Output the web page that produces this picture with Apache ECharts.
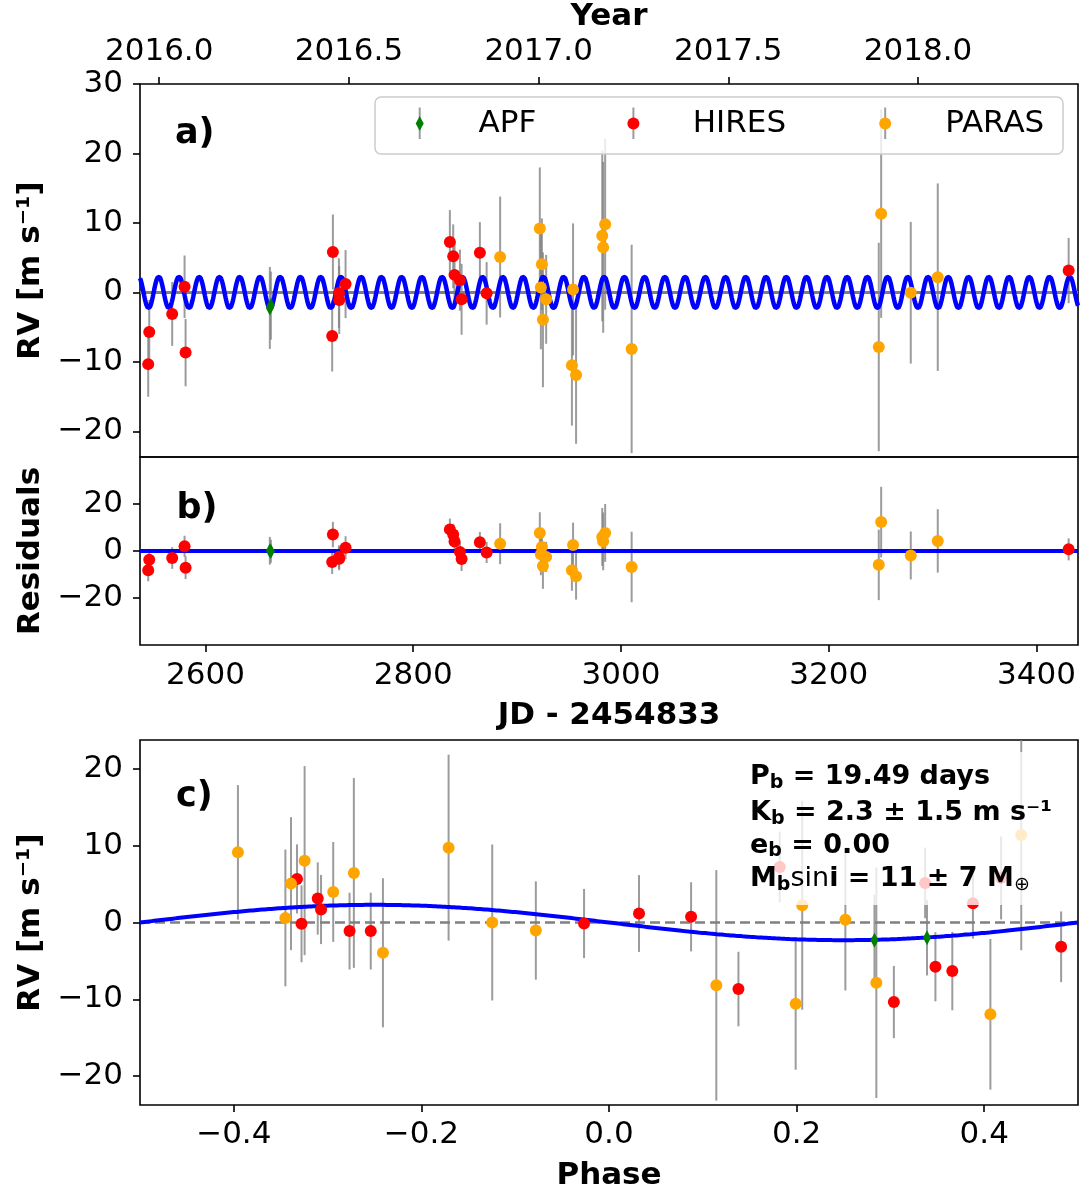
<!DOCTYPE html>
<html><head><meta charset="utf-8">
<script src="https://cdn.jsdelivr.net/npm/echarts@6/dist/echarts.min.js"></script>
<style>html,body{margin:0;padding:0;background:#fff}#c{width:1080px;height:1192px}</style>
</head><body><div id="c"></div>
<script>
// ---------------- data ----------------
// Time series, JD - 2454833
const apfJD   = [2662.0, 2663.0];
const apfRV   = [-2.24, -1.9];
const apfErr  = [5.9, 4.9];
const apfRes  = [0.1, -0.1];

const hiresJD  = [2544.9, 2545.9, 2568.0, 2579.9, 2580.9, 2722.0, 2722.7, 2728.5, 2728.8, 2734.9, 2835.3, 2838.5, 2839.8, 2845.0, 2846.6, 2864.2, 2870.7, 3431.0];
const hiresRV  = [-10.33, -5.71, -3.1, 0.81, -8.67, -6.29, 5.81, -0.1, -1.1, 1.19, 7.24, 5.19, 2.52, 1.76, -1.0, 5.71, -0.14, 3.14];
const hiresErr = [4.7, 4.6, 4.6, 4.5, 4.85, 5.1, 5.4, 5.0, 4.9, 4.9, 4.6, 4.6, 4.7, 4.4, 5.1, 4.4, 4.5, 4.7];
const hiresRes = [-8.2, -3.7, -3.0, 2.0, -7.1, -4.7, 7.0, -2.6, -3.3, 1.4, 9.2, 7.0, 4.0, -0.4, -3.4, 3.7, -0.6, 0.7];

const parasJD  = [2883.7, 2921.9, 2922.9, 2923.9, 2924.9, 2928.0, 2952.8, 2953.9, 2956.8, 2982.0, 2982.9, 2984.8, 3010.3, 3248.2, 3250.5, 3279.0, 3305.0];
const parasRV  = [5.09, 9.19, 0.71, 4.05, -3.95, -1.0, -10.48, 0.43, -11.9, 8.14, 6.48, 9.81, -8.14, -7.86, 11.33, -0.05, 2.19];
const parasErr = [8.7, 8.8, 8.9, 6.6, 9.7, 6.4, 8.7, 9.5, 9.9, 12.3, 12.3, 12.3, 15.0, 15.0, 15.0, 10.2, 13.5];
const parasRes = [3.1, 7.7, -1.4, 1.7, -6.4, -2.5, -8.2, 2.6, -10.8, 6.0, 4.1, 7.7, -6.8, -5.9, 12.3, -1.9, 4.3];

// Phase-folded
const apfPh   = [0.283, 0.339];
const apfPhRV = [-2.3, -1.99];
const apfPhErr= [5.9, 4.9];

const hiresPh   = [-0.3326, -0.3278, -0.3105, -0.307, -0.2766, -0.254, -0.0266, 0.032, 0.0875, 0.138, 0.182, 0.3037, 0.337, 0.348, 0.366, 0.388, 0.418, 0.482];
const hiresPhRV = [5.67, -0.17, 3.12, 1.69, -1.12, -1.12, -0.13, 1.17, 0.74, -8.66, 7.23, -10.35, 5.15, -5.76, -6.32, 2.51, 5.8, -3.16];
const hiresPhErr= [4.5, 5.0, 4.7, 4.5, 5.0, 5.0, 4.5, 5.0, 4.5, 4.85, 4.6, 4.7, 4.6, 4.5, 5.1, 4.6, 5.4, 4.6];

const parasPh   = [-0.3956, -0.345, -0.339, -0.3245, -0.294, -0.272, -0.241, -0.171, -0.1245, -0.078, 0.1144, 0.199, 0.206, 0.252, 0.285, 0.4066, 0.4395];
const parasPhRV = [9.13, 0.6, 5.06, 8.05, 3.98, 6.45, -3.94, 9.74, 0.0, -1.04, -8.18, -10.56, 2.25, 0.35, -7.84, -11.95, 11.39];
const parasPhErr= [8.75, 8.9, 8.65, 12.3, 6.5, 12.35, 9.7, 12.1, 10.15, 6.4, 15.0, 8.6, 13.6, 9.2, 15.0, 9.8, 15.0];

// Model parameters (from the annotation)
const P_b = 19.49, K_b = 2.3, T0 = 2540.4;

// Axis ranges and ticks
const JD_MIN = 2537, JD_MAX = 3440;
const JD_TICKS = [2600, 2800, 3000, 3200, 3400];
const YEAR_REF_JD = 2555.5; // 2016.0
const YEAR_TICKS = [2016.0, 2016.5, 2017.0, 2017.5, 2018.0];
const RV_TICKS_A = [-20, -10, 0, 10, 20, 30];
const RES_TICKS = [-20, 0, 20];
const RV_TICKS_C = [-20, -10, 0, 10, 20];
const PH_TICKS = [-0.4, -0.2, 0.0, 0.2, 0.4];

// ---------------- chart ----------------
const FONT = 'DejaVu Sans';
const ERR_COLOR = 'rgba(128,128,128,0.78)';
const C_APF = '#008000', C_HIRES = '#ff0000', C_PARAS = '#ffa500', C_MODEL = '#0000ff';
const toYear = jd => 2016 + (jd - YEAR_REF_JD) / 365.25;
const minus = s => String(s).replace('-', '\u2212');

const modelT = [];
for (let t = JD_MIN; t <= JD_MAX; t += 0.25) modelT.push([t, -K_b * Math.sin(2 * Math.PI * (t - T0) / P_b)]);
const modelPh = [];
for (let i = 0; i <= 400; i++) { const p = -0.5 + i / 400; modelPh.push([p, -K_b * Math.sin(2 * Math.PI * p)]); }

function zip(xs, ys) { return xs.map((x, i) => [x, ys[i]]); }
function errS(xi, yi, xs, ys, es) {
  return { type: 'custom', xAxisIndex: xi, yAxisIndex: yi, clip: true, z: 2, silent: true,
    data: xs.map((x, i) => [x, ys[i], es[i]]), encode: { x: 0, y: 1 },
    renderItem: (params, api) => {
      const x = api.value(0), y = api.value(1), e = api.value(2);
      const a = api.coord([x, y - e]), b = api.coord([x, y + e]);
      return { type: 'line', shape: { x1: a[0], y1: a[1], x2: b[0], y2: b[1] }, style: { stroke: ERR_COLOR, lineWidth: 2 } };
    } };
}
function scS(xi, yi, xs, ys, color, symbol, size) {
  return { type: 'scatter', xAxisIndex: xi, yAxisIndex: yi, data: zip(xs, ys), symbol: symbol, symbolSize: size,
    itemStyle: { color: color, opacity: 1 }, z: 5, silent: true, clip: true };
}
function lineS(xi, yi, data, color, width, type, z) {
  return { type: 'line', xAxisIndex: xi, yAxisIndex: yi, data: data, showSymbol: false, symbol: 'none',
    lineStyle: { color: color, width: width, type: type || 'solid' }, z: z, silent: true, clip: true };
}
const tickStyle = { color: '#000', width: 1.6 };
const labelStyle = { fontFamily: FONT, fontSize: 31, color: '#000' };
const nameStyle = { fontFamily: FONT, fontSize: 31, fontWeight: 'bold', color: '#000' };

function valAxis(extra) {
  return Object.assign({ type: 'value', splitLine: { show: false }, axisLine: { show: false, onZero: false } }, extra);
}

const option = {
  animation: false,
  backgroundColor: '#fff',
  grid: [
    { left: 140, right: 2, top: 81, height: 376, show: true, borderColor: '#000', borderWidth: 1.6, backgroundColor: 'transparent' },
    { left: 140, right: 2, top: 457, height: 188, show: true, borderColor: '#000', borderWidth: 1.6, backgroundColor: 'transparent' },
    { left: 140, right: 2, top: 740, height: 366, show: true, borderColor: '#000', borderWidth: 1.6, backgroundColor: 'transparent' }
  ],
  xAxis: [
    valAxis({ gridIndex: 0, min: JD_MIN, max: JD_MAX, position: 'bottom', axisTick: { show: false }, axisLabel: { show: false } }),
    valAxis({ gridIndex: 0, min: toYear(JD_MIN), max: toYear(JD_MAX), position: 'top',
      name: 'Year', nameLocation: 'middle', nameGap: 52, nameTextStyle: nameStyle,
      axisTick: { show: true, customValues: YEAR_TICKS, length: 7, lineStyle: tickStyle },
      axisLabel: Object.assign({ customValues: YEAR_TICKS, formatter: v => v.toFixed(1), margin: 17 }, labelStyle) }),
    valAxis({ gridIndex: 1, min: JD_MIN, max: JD_MAX, position: 'bottom',
      name: 'JD - 2454833', nameLocation: 'middle', nameGap: 55, nameTextStyle: nameStyle,
      axisTick: { show: true, customValues: JD_TICKS, length: 7, lineStyle: tickStyle },
      axisLabel: Object.assign({ customValues: JD_TICKS, formatter: v => String(v), margin: 15 }, labelStyle) }),
    valAxis({ gridIndex: 2, min: -0.5, max: 0.5, position: 'bottom',
      name: 'Phase', nameLocation: 'middle', nameGap: 55, nameTextStyle: nameStyle,
      axisTick: { show: true, customValues: PH_TICKS, length: 7, lineStyle: tickStyle },
      axisLabel: Object.assign({ customValues: PH_TICKS, formatter: v => minus(v.toFixed(1)), margin: 14 }, labelStyle) })
  ],
  yAxis: [
    valAxis({ gridIndex: 0, min: -23.7, max: 30, name: 'RV [m s\u207B\u00B9]', nameLocation: 'middle', nameGap: 94, nameTextStyle: nameStyle,
      axisTick: { show: true, customValues: RV_TICKS_A, length: 7, lineStyle: tickStyle },
      axisLabel: Object.assign({ customValues: RV_TICKS_A, formatter: v => minus(Math.round(v)), margin: 17 }, labelStyle) }),
    valAxis({ gridIndex: 1, min: -40, max: 40, name: 'Residuals', nameLocation: 'middle', nameGap: 94, nameTextStyle: nameStyle,
      axisTick: { show: true, customValues: RES_TICKS, length: 7, lineStyle: tickStyle },
      axisLabel: Object.assign({ customValues: RES_TICKS, formatter: v => minus(Math.round(v)), margin: 17 }, labelStyle) }),
    valAxis({ gridIndex: 2, min: -23.75, max: 23.75, name: 'RV [m s\u207B\u00B9]', nameLocation: 'middle', nameGap: 94, nameTextStyle: nameStyle,
      axisTick: { show: true, customValues: RV_TICKS_C, length: 7, lineStyle: tickStyle },
      axisLabel: Object.assign({ customValues: RV_TICKS_C, formatter: v => minus(Math.round(v)), margin: 17 }, labelStyle) })
  ],
  series: [
    // panel a
    lineS(0, 0, [[JD_MIN, 0], [JD_MAX, 0]], '#808080', 3, 'solid', 1),
    errS(0, 0, apfJD, apfRV, apfErr), errS(0, 0, hiresJD, hiresRV, hiresErr), errS(0, 0, parasJD, parasRV, parasErr),
    lineS(0, 0, modelT, C_MODEL, 4.5, 'solid', 3),
    scS(0, 0, apfJD, apfRV, C_APF, 'diamond', [8, 15]),
    scS(0, 0, hiresJD, hiresRV, C_HIRES, 'circle', 12),
    scS(0, 0, parasJD, parasRV, C_PARAS, 'circle', 12),
    // panel b
    lineS(2, 1, [[JD_MIN, 0], [JD_MAX, 0]], C_MODEL, 4, 'solid', 3),
    errS(2, 1, apfJD, apfRes, apfErr), errS(2, 1, hiresJD, hiresRes, hiresErr), errS(2, 1, parasJD, parasRes, parasErr),
    scS(2, 1, apfJD, apfRes, C_APF, 'diamond', [8, 15]),
    scS(2, 1, hiresJD, hiresRes, C_HIRES, 'circle', 12),
    scS(2, 1, parasJD, parasRes, C_PARAS, 'circle', 12),
    // panel c
    lineS(3, 2, [[-0.5, 0], [0.5, 0]], '#808080', 2.5, [10, 5], 1),
    errS(3, 2, apfPh, apfPhRV, apfPhErr), errS(3, 2, hiresPh, hiresPhRV, hiresPhErr), errS(3, 2, parasPh, parasPhRV, parasPhErr),
    lineS(3, 2, modelPh, C_MODEL, 4, 'solid', 3),
    scS(3, 2, apfPh, apfPhRV, C_APF, 'diamond', [8, 15]),
    scS(3, 2, hiresPh, hiresPhRV, C_HIRES, 'circle', 12),
    scS(3, 2, parasPh, parasPhRV, C_PARAS, 'circle', 12)
  ],
  graphic: []
};

const TOPZ = 100;
// Legend (drawn as graphics, matplotlib-style errorbar handles)
const lgY = 123.5;
const legendItems = [
  { x: 419.7, tx: 478.6, label: 'APF', color: C_APF, kind: 'diamond' },
  { x: 633.4, tx: 692.8, label: 'HIRES', color: C_HIRES, kind: 'circle' },
  { x: 885.2, tx: 945.2, label: 'PARAS', color: C_PARAS, kind: 'circle' }
];
option.graphic.push({ type: 'rect', z: TOPZ, shape: { x: 375, y: 97, width: 688, height: 57, r: 6 }, style: { fill: 'rgba(255,255,255,0.8)', stroke: '#cccccc', lineWidth: 1.5 } });
legendItems.forEach(it => {
  option.graphic.push({ type: 'line', z: TOPZ + 1, shape: { x1: it.x, y1: 107.5, x2: it.x, y2: 139 }, style: { stroke: ERR_COLOR, lineWidth: 2 } });
  if (it.kind === 'circle') option.graphic.push({ type: 'circle', z: TOPZ + 2, shape: { cx: it.x, cy: lgY, r: 6 }, style: { fill: it.color } });
  else option.graphic.push({ type: 'polygon', z: TOPZ + 2, shape: { points: [[it.x, lgY - 7.5], [it.x + 4, lgY], [it.x, lgY + 7.5], [it.x - 4, lgY]] }, style: { fill: it.color } });
  option.graphic.push({ type: 'text', z: TOPZ + 2, x: it.tx, y: lgY, style: { text: it.label, fontFamily: FONT, fontSize: 31, fill: '#000', textVerticalAlign: 'middle', textAlign: 'left' } });
});

// Panel labels
[['a)', 175, 134], ['b)', 176.5, 509], ['c)', 176, 797]].forEach(([t, x, y]) => {
  option.graphic.push({ type: 'text', z: TOPZ, x: x, y: y, style: { text: t, fontFamily: FONT, fontSize: 35, fontWeight: 'bold', fill: '#000', textVerticalAlign: 'middle', textAlign: 'left' } });
});

// Annotation box in panel c
const richA = {
  m: { fontFamily: FONT, fontSize: 27, fontWeight: 'bold', lineHeight: 31, fill: '#000' },
  n: { fontFamily: FONT, fontSize: 27, fontWeight: 'normal', lineHeight: 31, fill: '#000' },
  s: { fontFamily: FONT, fontSize: 19, fontWeight: 'bold', lineHeight: 17, verticalAlign: 'bottom', fill: '#000' },
  sn: { fontFamily: FONT, fontSize: 19, fontWeight: 'normal', lineHeight: 17, verticalAlign: 'bottom', fill: '#000' }
};
const annLines = [
  ['{m|P}{s|b}{m| = 19.49 days}', 777],
  ['{m|K}{s|b}{m| = 2.3 \u00B1 1.5 m s\u207B\u00B9}', 813],
  ['{m|e}{s|b}{m| = 0.00}', 845.5],
  ['{m|M}{s|b}{n|sin}{m|i = 11 \u00B1 7 M}{sn|\u2295}', 879]
];
option.graphic.push({ type: 'rect', z: TOPZ, shape: { x: 742, y: 752, width: 320, height: 153 }, style: { fill: 'rgba(255,255,255,0.78)' } });
annLines.forEach(([t, y]) => {
  option.graphic.push({ type: 'text', z: TOPZ + 1, x: 750, y: y, style: { text: t, rich: richA, textVerticalAlign: 'middle', textAlign: 'left' } });
});

const chart = echarts.init(document.getElementById('c'), null, { renderer: 'canvas' });
chart.setOption(option);
</script></body></html>
